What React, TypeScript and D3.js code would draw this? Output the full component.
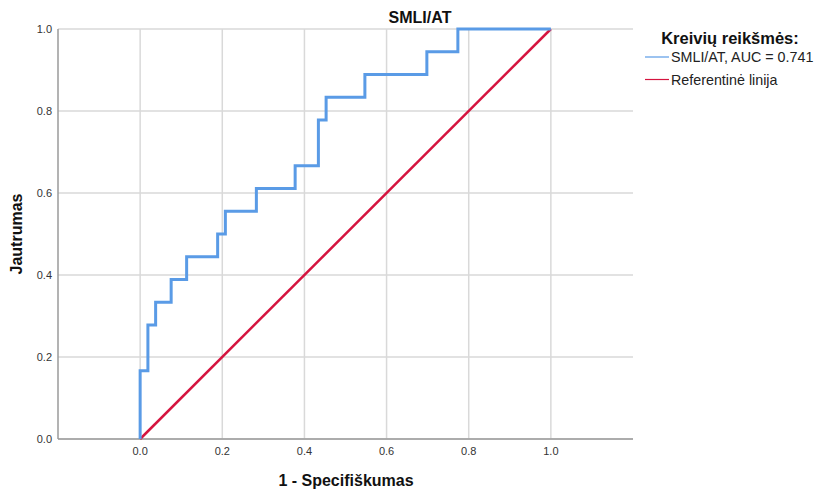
import React from "react";
import * as d3 from "d3";

// ROC coordinates (1 - specificity, sensitivity)
const fpr = [0, 0, 0.0189, 0.0377, 0.0755, 0.1132, 0.1887, 0.2075, 0.283, 0.3774, 0.434, 0.4528, 0.5472, 0.6981, 0.7736, 1.0];
const tpr = [0, 0.1667, 0.2778, 0.3333, 0.3889, 0.4444, 0.5, 0.5556, 0.6111, 0.6667, 0.7778, 0.8333, 0.8889, 0.9444, 1.0, 1.0];
const refLine = [0, 1];
const xTicks = [0, 0.2, 0.4, 0.6, 0.8, 1.0];
const yTicks = [0, 0.2, 0.4, 0.6, 0.8, 1.0];

const title = "SMLI/AT";
const xTitle = "1 - Specifiškumas";
const yTitle = "Jautrumas";
const legendTitle = "Kreivių reikšmės:";
const legendItems = ["SMLI/AT, AUC = 0.741", "Referentinė linija"];

const W = 822;
const H = 489;
const left = 58;
const right = 633;
const top = 29;
const bottom = 439;

const FONT = "'Liberation Sans', Arial, sans-serif";
const BLUE = "#5a9be6";
const RED = "#d5143f";

export default function App() {
  const x = d3.scaleLinear().domain([-0.2, 1.2]).range([left, right]);
  const y = d3.scaleLinear().domain([0, 1]).range([bottom, top]);

  const pts: [number, number][] = fpr.map((f, i) => [f, tpr[i]]);
  const roc = d3
    .line<[number, number]>()
    .x((d) => x(d[0]))
    .y((d) => y(d[1]))
    .curve(d3.curveStepAfter)(pts);

  const ref = d3
    .line<number>()
    .x((d) => x(d))
    .y((d) => y(d))(refLine);

  const fmt = d3.format(".1f");

  return (
    <div style={{ position: "fixed", left: 0, top: 0 }}>
      <svg width={W} height={H} style={{ display: "block", background: "#fff" }} fontFamily={FONT}>
        {/* grid */}
        {xTicks.map((t) => (
          <line key={"gx" + t} x1={x(t)} x2={x(t)} y1={top} y2={bottom} stroke="#d9d9d9" strokeWidth={1.5} />
        ))}
        {yTicks.map((t) => (
          <line key={"gy" + t} x1={left} x2={right} y1={y(t)} y2={y(t)} stroke="#d9d9d9" strokeWidth={1.5} />
        ))}
        {/* axes */}
        <line x1={left} x2={left} y1={top} y2={bottom} stroke="#9a9a9a" strokeWidth={1.5} />
        <line x1={left} x2={right} y1={bottom} y2={bottom} stroke="#9a9a9a" strokeWidth={1.5} />

        {/* tick labels */}
        {yTicks.map((t) => (
          <text key={"ty" + t} x={left - 6} y={y(t)} dy="0.35em" textAnchor="end" fontSize={11} fill="#333">
            {fmt(t)}
          </text>
        ))}
        {xTicks.map((t) => (
          <text key={"tx" + t} x={x(t)} y={bottom + 16} textAnchor="middle" fontSize={11} fill="#333">
            {fmt(t)}
          </text>
        ))}

        {/* reference line and ROC curve */}
        <path d={ref ?? ""} fill="none" stroke={RED} strokeWidth={2.5} />
        <path d={roc ?? ""} fill="none" stroke={BLUE} strokeWidth={3} strokeLinejoin="miter" />

        {/* titles */}
        <text x={420} y={23} textAnchor="middle" fontSize={16} fontWeight="bold" fill="#111">
          {title}
        </text>
        <text x={346} y={486} textAnchor="middle" fontSize={16} fontWeight="bold" fill="#111">
          {xTitle}
        </text>
        <text
          transform={`translate(22, ${(top + bottom) / 2}) rotate(-90)`}
          textAnchor="middle"
          fontSize={16}
          fontWeight="bold"
          fill="#111"
        >
          {yTitle}
        </text>

        {/* legend */}
        <text x={730} y={44} textAnchor="middle" fontSize={16.5} fontWeight="bold" fill="#111">
          {legendTitle}
        </text>
        {legendItems.map((label, i) => (
          <g key={label} transform={`translate(645, ${57 + i * 22.5})`}>
            <line x1={0} x2={24} y1={0} y2={0} stroke={i === 0 ? BLUE : RED} strokeWidth={1.2} />
            <text x={26} y={0} dy="0.35em" fontSize={14.3} fill="#222">
              {label}
            </text>
          </g>
        ))}
      </svg>
    </div>
  );
}
